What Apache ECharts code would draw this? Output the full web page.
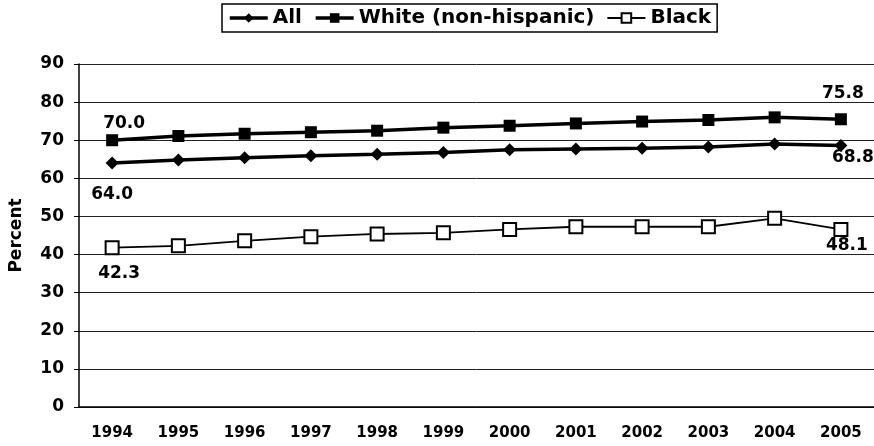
<!DOCTYPE html>
<html>
<head>
<meta charset="utf-8">
<script src="https://cdn.jsdelivr.net/npm/echarts@6/dist/echarts.min.js"></script>
<style>html,body{margin:0;padding:0;background:#fff}#c{width:874px;height:446px}</style>
</head>
<body>
<div id="c"></div>
<script>
const years = ['1994','1995','1996','1997','1998','1999','2000','2001','2002','2003','2004','2005'];
const allVals   = [64.0, 64.8, 65.4, 65.9, 66.3, 66.8, 67.5, 67.7, 67.9, 68.2, 69.0, 68.6];
const whiteVals = [70.0, 71.1, 71.7, 72.1, 72.5, 73.3, 73.8, 74.4, 74.9, 75.3, 76.0, 75.5];
const blackVals = [41.8, 42.3, 43.6, 44.7, 45.4, 45.7, 46.6, 47.3, 47.3, 47.3, 49.5, 46.6];
const allLabels   = {0: '64.0', 11: '68.8'};
const whiteLabels = {0: '70.0', 11: '75.8'};
const blackLabels = {0: '42.3', 11: '48.1'};
const yTicks = [0, 10, 20, 30, 40, 50, 60, 70, 80, 90];

const FONT = '"DejaVu Sans", sans-serif';
const lblStyle = {show: true, color: '#000', fontFamily: FONT, fontWeight: 'bold', fontSize: 17};

function build(vals, labels, placement) {
  return vals.map((v, i) => {
    if (labels[i] === undefined) return v;
    const p = placement[i];
    return {value: v, label: Object.assign({}, lblStyle, {position: p.pos, offset: p.off, formatter: labels[i]})};
  });
}

const chart = echarts.init(document.getElementById('c'), null, {renderer: 'canvas'});
chart.setOption({
  animation: false,
  backgroundColor: '#fff',
  legend: {
    top: 4, left: 222,
    padding: [4, 6, 4, 6],
    borderColor: '#000', borderWidth: 1.5,
    itemGap: 12, itemWidth: 38, itemHeight: 12,
    textStyle: {fontFamily: FONT, fontWeight: 'bold', fontSize: 20, color: '#000'},
    data: [
      {name: 'All', lineStyle: {width: 3.5}},
      {name: 'White (non-hispanic)', lineStyle: {width: 3.5}},
      {name: 'Black', lineStyle: {width: 1.8}}
    ]
  },
  grid: {left: 78, top: 64, width: 800, bottom: 39},
  xAxis: {
    type: 'category', data: years, boundaryGap: true,
    axisLine: {lineStyle: {color: '#000', width: 1.5}},
    axisTick: {length: 5, lineStyle: {color: '#000'}},
    axisLabel: {fontFamily: FONT, fontWeight: 'bold', fontSize: 15, color: '#000', margin: 19}
  },
  yAxis: {
    type: 'value', min: yTicks[0], max: yTicks[yTicks.length - 1], interval: 10,
    name: 'Percent', nameLocation: 'middle', nameGap: 54,
    nameTextStyle: {fontFamily: FONT, fontWeight: 'bold', fontSize: 17, color: '#000'},
    axisLine: {show: true, lineStyle: {color: '#000', width: 1.5}},
    axisTick: {show: true, length: 5, lineStyle: {color: '#000'}},
    axisLabel: {fontFamily: FONT, fontWeight: 'bold', fontSize: 17, color: '#000', margin: 15},
    splitLine: {lineStyle: {color: '#222', width: 1}}
  },
  series: [
    {
      name: 'All', type: 'line', data: build(allVals, allLabels, {0: {pos: 'bottom', off: [0, 11]}, 11: {pos: 'bottom', off: [12, -8]}}),
      symbol: 'diamond', symbolSize: 13,
      itemStyle: {color: '#000'}, lineStyle: {color: '#000', width: 3.5}, z: 3
    },
    {
      name: 'White (non-hispanic)', type: 'line', data: build(whiteVals, whiteLabels, {0: {pos: 'top', off: [12, 3]}, 11: {pos: 'top', off: [2, -6]}}),
      symbol: 'rect', symbolSize: 12,
      itemStyle: {color: '#000'}, lineStyle: {color: '#000', width: 3.5}, z: 3
    },
    {
      name: 'Black', type: 'line', data: build(blackVals, blackLabels, {0: {pos: 'bottom', off: [7, 5]}, 11: {pos: 'bottom', off: [6, -5]}}),
      symbol: 'rect', symbolSize: 13,
      itemStyle: {color: '#fff', borderColor: '#000', borderWidth: 2},
      lineStyle: {color: '#000', width: 1.8}, z: 3
    }
  ]
});
</script>
</body>
</html>
